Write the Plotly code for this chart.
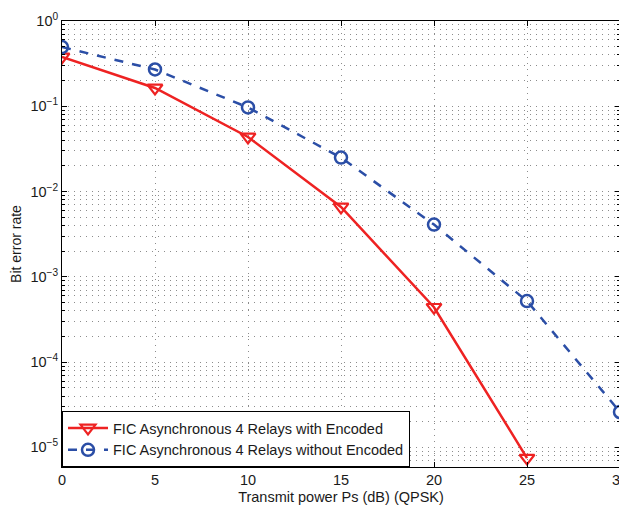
import plotly.graph_objects as go

x_red = [0, 5, 10, 15, 20, 25]
y_red = [0.38, 0.164, 0.0437, 0.0066, 4.4e-4, 7.5e-6]
x_blue = [0, 5, 10, 15, 20, 25, 30]
y_blue = [0.495, 0.27, 0.097, 0.025, 0.0041, 5.2e-4, 2.6e-5]
name_red = "FIC Asynchronous 4 Relays with Encoded"
name_blue = "FIC Asynchronous 4 Relays without Encoded"
y_tickvals = [1, 1e-1, 1e-2, 1e-3, 1e-4, 1e-5]
y_ticktext = ["10<sup>0</sup>", "10<sup>−1</sup>", "10<sup>−2</sup>", "10<sup>−3</sup>",
              "10<sup>−4</sup>", "10<sup>−5</sup>"]

fig = go.Figure()
fig.add_trace(go.Scatter(
    x=x_red, y=y_red, name=name_red, mode="lines+markers",
    line=dict(color="#ee2222", width=2.5),
    marker=dict(symbol="triangle-down-open", size=13, color="#ee2222", line=dict(width=2.2)),
))
fig.add_trace(go.Scatter(
    x=x_blue, y=y_blue, name=name_blue, mode="lines+markers",
    line=dict(color="#2b4ea6", width=2.5, dash="dash"),
    marker=dict(symbol="circle-open", size=12, color="#2b4ea6", line=dict(width=2.5)),
))

gcol = "#8c8c8c"
dash = "1px,5px"
fig.update_xaxes(
    range=[0, 30], dtick=5, tick0=0, ticks="inside", ticklen=5, tickcolor="black",
    showline=True, linecolor="black", linewidth=1, mirror="allticks", zeroline=False,
    automargin=False, ticklabeloverflow="allow",
    title=dict(text="Transmit power Ps (dB) (QPSK)", standoff=4, font=dict(size=14.5)),
    tickfont=dict(size=14.5),
    showgrid=True, gridcolor=gcol, griddash=dash, gridwidth=1,
)
fig.update_yaxes(
    type="log", range=[-5.23, 0], tickmode="array", tickvals=y_tickvals, ticktext=y_ticktext,
    ticks="inside", ticklen=5, tickcolor="black",
    showline=True, linecolor="black", linewidth=1, mirror="allticks", zeroline=False,
    automargin=False, ticklabeloverflow="allow",
    title=dict(text="Bit error rate", standoff=8, font=dict(size=14)),
    tickfont=dict(size=14.5),
    showgrid=True, gridcolor=gcol, griddash=dash, gridwidth=1,
    minor=dict(dtick="D1", ticks="inside", ticklen=3, tickcolor="black",
               showgrid=True, gridcolor=gcol, griddash=dash, gridwidth=1),
)
fig.update_layout(
    width=619, height=498,
    margin=dict(l=54, r=7, t=13, b=39),
    plot_bgcolor="white", paper_bgcolor="white",
    font=dict(family="Liberation Sans, Arial, sans-serif", color="#1a1a1a", size=14.5),
    showlegend=True,
    legend=dict(x=0, y=0, xanchor="left", yanchor="bottom",
                bgcolor="white", bordercolor="black", borderwidth=1,
                font=dict(size=14.5), tracegroupgap=0, itemwidth=40),
)
fig.write_html("out.html")
